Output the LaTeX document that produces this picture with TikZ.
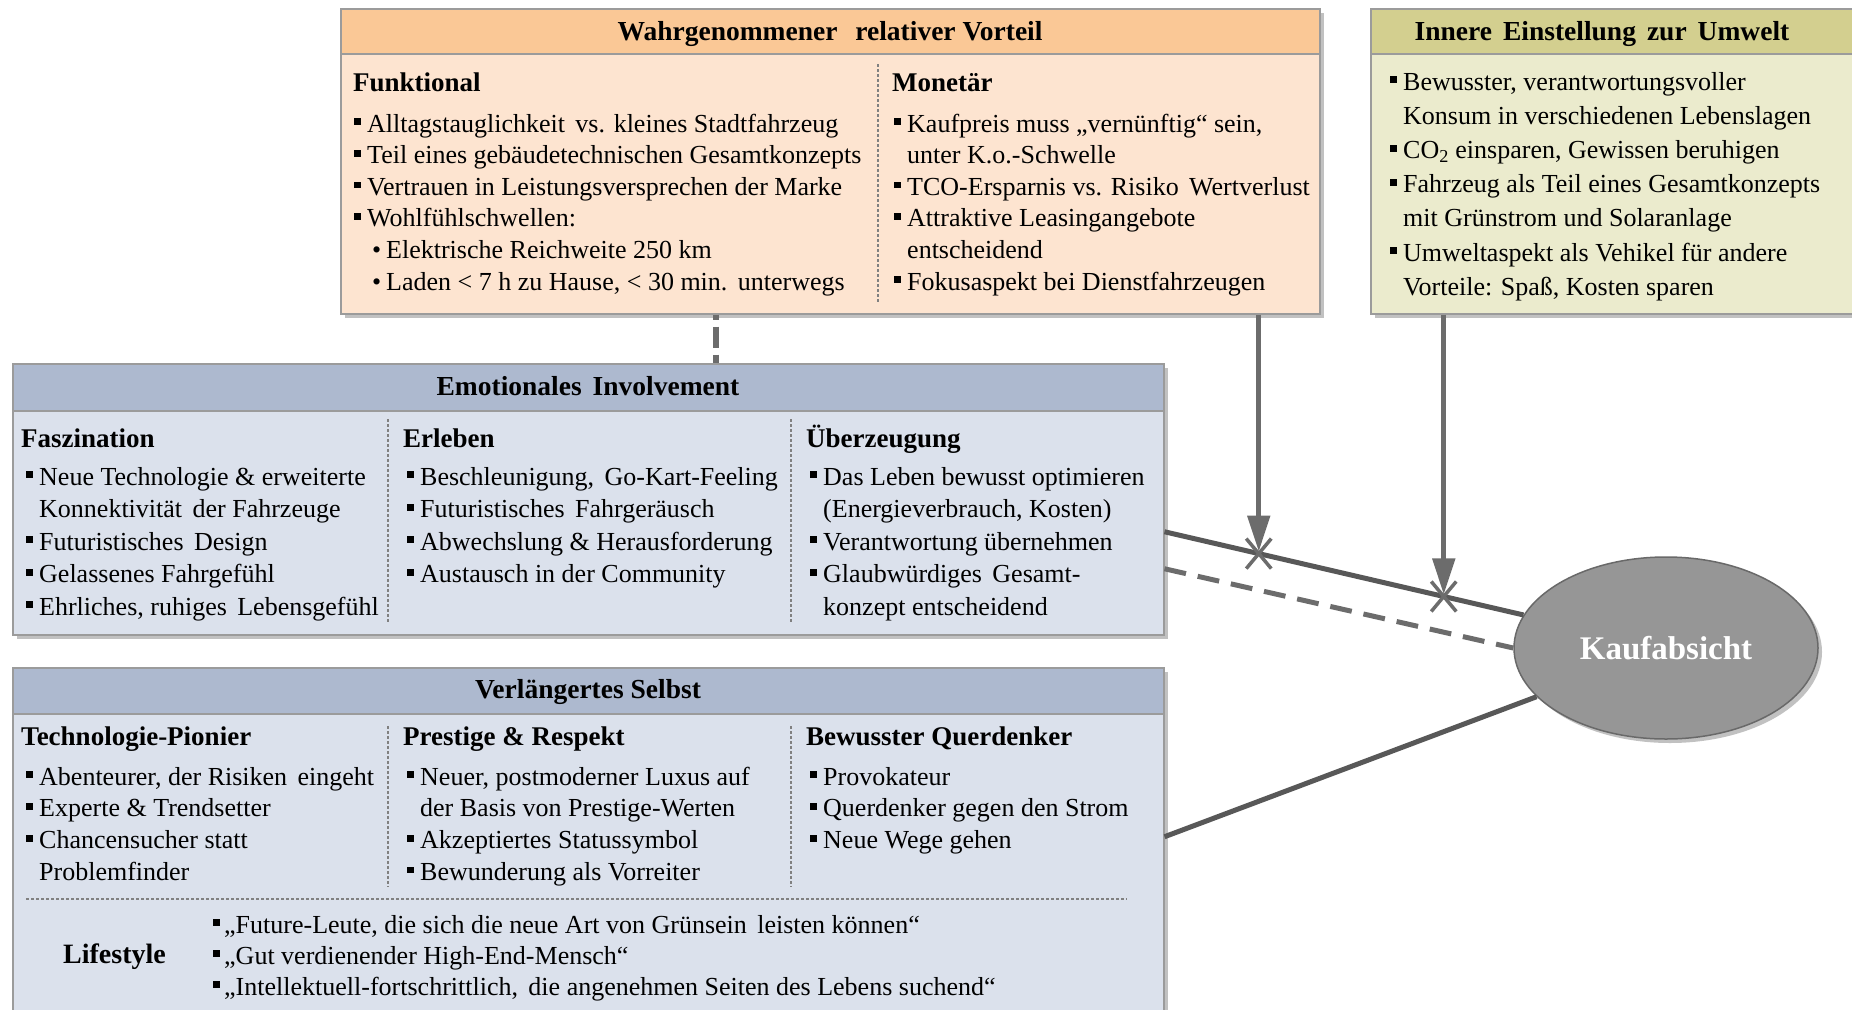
\documentclass[tikz,border=0pt]{standalone}
\usepackage{fontspec}
\setmainfont{Liberation Serif}
\usetikzlibrary{shapes.geometric,shadows,arrows.meta,intersections,calc}

\definecolor{orangeHead}{RGB}{250,200,150}
\definecolor{orangeBody}{RGB}{253,228,208}
\definecolor{greenHead}{RGB}{211,207,143}
\definecolor{greenBody}{RGB}{235,235,205}
\definecolor{blueHead}{RGB}{173,185,207}
\definecolor{blueBody}{RGB}{219,225,236}
\definecolor{borderGray}{RGB}{155,155,155}
\definecolor{ellFill}{RGB}{150,150,150}
\definecolor{ellBorder}{RGB}{105,105,105}
\definecolor{lineDark}{RGB}{88,88,88}
\definecolor{arrowGray}{RGB}{108,108,108}

% list markers and a slightly wider word gap
\newcommand\bul{\makebox[13pt][l]{\rule[0.26em]{0.26em}{0.26em}}}
\newcommand\ind{\hspace*{13pt}}
\newcommand\subbul{\hspace*{18pt}\makebox[14pt][l]{•}}
\newcommand\lbul{\makebox[11pt][l]{\rule[0.26em]{0.26em}{0.26em}}}
\newcommand\wsp{\hspace{0.4em}}

% one text line per node, baselines spaced evenly
\newcommand\listcol[5]{%
  \foreach \itm [count=\k] in {#5} {\node[txt] (#1\k) at (#2,{#3+#4*(\k-1)}) {\itm};}}

\tikzset{
  boxshadow/.style={drop shadow={shadow xshift=4pt, shadow yshift=-4pt, opacity=0.4, fill=black!60}},
  panel/.style={rectangle, draw=borderGray, line width=1.5pt, anchor=north west, inner sep=0pt, boxshadow},
  band/.style={rectangle, draw=borderGray, line width=1.5pt, anchor=north west, inner sep=0pt},
  title/.style={anchor=base, inner sep=0pt, font=\fontsize{27.5}{30}\selectfont\bfseries},
  head/.style={anchor=base west, inner sep=0pt, font=\fontsize{27}{30}\selectfont\bfseries},
  txt/.style={anchor=base west, inner sep=0pt, font=\fontsize{26}{30}\selectfont},
  divider/.style={draw=black!50, line width=2pt, dash pattern=on 2.5pt off 2.5pt},
  link/.style={draw=lineDark, line width=5pt},
  dashlink/.style={draw=arrowGray, line width=5pt, dash pattern=on 22pt off 12pt},
  vdash/.style={draw=arrowGray, line width=6pt, dash pattern=on 21pt off 7pt, dash phase=16pt},
  modarrow/.style={draw=arrowGray, line width=5pt, -{Triangle[length=36pt,width=22pt]}, shorten >=2pt},
  xmark/.style={draw=arrowGray, line width=3.5pt},
}

\begin{document}
\begin{tikzpicture}[x=1pt,y=-1pt]
\useasboundingbox (0,0) rectangle (1852,1009);
\fill[white] (0,0) rectangle (1852,1009);
\clip (0,0) rectangle (1852,1009);

% ---------- Wahrgenommener relativer Vorteil ----------
\node[panel, fill=orangeBody, minimum width=979pt, minimum height=305pt] (vorteil) at (340,8) {};
\node[band, fill=orangeHead, minimum width=979pt, minimum height=45pt] (vorteilHead) at (340,8) {};
\node[title] (vorteilTitle) at (830,40) {Wahrgenommener\wsp\ relativer Vorteil};
\draw[divider] (878,64) -- (878,302);
\node[head] (funkHead) at (353,91) {Funktional};
\listcol{funk}{354}{132}{31.6}{%
  {\bul Alltagstauglichkeit\wsp vs. kleines Stadtfahrzeug},
  {\bul Teil eines gebäudetechnischen Gesamtkonzepts},
  {\bul Vertrauen in Leistungsversprechen der Marke},
  {\bul Wohlfühlschwellen:},
  {\subbul Elektrische Reichweite 250 km},
  {\subbul Laden < 7 h zu Hause, < 30 min.\wsp unterwegs}}
\node[head] (monHead) at (892,91) {Monetär};
\listcol{mon}{894}{132}{31.6}{%
  {\bul Kaufpreis muss „vernünftig“ sein,},
  {\ind unter K.o.-Schwelle},
  {\bul TCO-Ersparnis vs. Risiko\wsp Wertverlust},
  {\bul Attraktive Leasingangebote},
  {\ind entscheidend},
  {\bul Fokusaspekt bei Dienstfahrzeugen}}

% ---------- Innere Einstellung zur Umwelt ----------
\node[panel, fill=greenBody, minimum width=492pt, minimum height=305pt] (umwelt) at (1370,8) {};
\node[band, fill=greenHead, minimum width=492pt, minimum height=45pt] (umweltHead) at (1370,8) {};
\node[title] (umweltTitle) at (1602,40) {Innere\wsp Einstellung\wsp zur\wsp Umwelt};
\listcol{umw}{1390}{90}{34.2}{%
  {\bul Bewusster, verantwortungsvoller},
  {\ind Konsum in verschiedenen Lebenslagen},
  {\bul CO\textsubscript{2} einsparen, Gewissen beruhigen},
  {\bul Fahrzeug als Teil eines Gesamtkonzepts},
  {\ind mit Grünstrom und Solaranlage},
  {\bul Umweltaspekt als Vehikel für andere},
  {\ind Vorteile: Spaß, Kosten sparen}}

% ---------- Emotionales Involvement ----------
\node[panel, fill=blueBody, minimum width=1151pt, minimum height=271pt] (emo) at (12,363) {};
\node[band, fill=blueHead, minimum width=1151pt, minimum height=47pt] (emoHead) at (12,363) {};
\node[title] (emoTitle) at (588,395) {Emotionales\wsp Involvement};
\draw[divider] (388,419) -- (388,623);
\draw[divider] (791,419) -- (791,623);
\node[head] (faszHead) at (21,447) {Faszination};
\listcol{fasz}{26}{485}{32.5}{%
  {\bul Neue Technologie \& erweiterte},
  {\ind Konnektivität\wsp der Fahrzeuge},
  {\bul Futuristisches\wsp Design},
  {\bul Gelassenes Fahrgefühl},
  {\bul Ehrliches, ruhiges\wsp Lebensgefühl}}
\node[head] (erlHead) at (403,447) {Erleben};
\listcol{erl}{407}{485}{32.5}{%
  {\bul Beschleunigung,\wsp Go-Kart-Feeling},
  {\bul Futuristisches\wsp Fahrgeräusch},
  {\bul Abwechslung \& Herausforderung},
  {\bul Austausch in der Community}}
\node[head] (ueberHead) at (806,447) {Überzeugung};
\listcol{ueber}{810}{485}{32.5}{%
  {\bul Das Leben bewusst optimieren},
  {\ind (Energieverbrauch, Kosten)},
  {\bul Verantwortung übernehmen},
  {\bul Glaubwürdiges\wsp Gesamt-},
  {\ind konzept entscheidend}}

% ---------- Verlängertes Selbst ----------
\node[panel, fill=blueBody, minimum width=1151pt, minimum height=353pt] (selbst) at (12,667) {};
\node[band, fill=blueHead, minimum width=1151pt, minimum height=46pt] (selbstHead) at (12,667) {};
\node[title] (selbstTitle) at (588,698) {Verlängertes Selbst};
\draw[divider] (388,726) -- (388,887);
\draw[divider] (791,726) -- (791,887);
\draw[divider] (26,899) -- (1127,899);
\node[head] (pionHead) at (21,745) {Technologie-Pionier};
\listcol{pion}{26}{785}{31.7}{%
  {\bul Abenteurer, der Risiken\wsp eingeht},
  {\bul Experte \& Trendsetter},
  {\bul Chancensucher statt},
  {\ind Problemfinder}}
\node[head] (prestHead) at (403,745) {Prestige \& Respekt};
\listcol{prest}{407}{785}{31.7}{%
  {\bul Neuer, postmoderner Luxus auf},
  {\ind der Basis von Prestige-Werten},
  {\bul Akzeptiertes Statussymbol},
  {\bul Bewunderung als Vorreiter}}
\node[head] (querHead) at (806,745) {Bewusster Querdenker};
\listcol{quer}{810}{785}{31.7}{%
  {\bul Provokateur},
  {\bul Querdenker gegen den Strom},
  {\bul Neue Wege gehen}}
\node[head, font=\fontsize{28}{30}\selectfont\bfseries] (lifeHead) at (63,963) {Lifestyle};
\listcol{life}{213}{933}{31}{%
  {\lbul„Future-Leute, die sich die neue Art von Grünsein\wsp leisten können“},
  {\lbul„Gut verdienender High-End-Mensch“},
  {\lbul„Intellektuell-fortschrittlich,\wsp die angenehmen Seiten des Lebens suchend“}}

% ---------- Kaufabsicht ----------
\node[ellipse, draw=ellBorder, line width=1.5pt, fill=ellFill, minimum width=304pt, minimum height=182pt,
      inner sep=0pt, boxshadow, text=white, font=\fontsize{33}{36}\selectfont\bfseries] (kauf) at (1666,648) {Kaufabsicht};

% ---------- connectors ----------
\coordinate (emoOut) at ([yshift=-32.5pt]emo.east);
\coordinate (emoOutB) at ([yshift=-69.5pt]emo.east);
\coordinate (selbstOut) at ([yshift=7.5pt]selbst.east);
\coordinate (vorteilOut) at ([xshift=428.5pt]vorteil.south);
\coordinate (umweltOut) at ([xshift=-173pt]umwelt.south);
\coordinate (vorteilDash) at ([xshift=-114.5pt]vorteil.south);

\draw[link, name path=mainpath] (emoOut) -- (kauf);
\draw[dashlink] (emoOutB) -- (kauf.west);
\draw[link] (selbstOut) -- (kauf);
\draw[vdash] (vorteilDash) -- (vorteilDash |- emo.north);

\path[name path=vpathA] (vorteilOut) -- ++(0,400);
\path[name path=vpathB] (umweltOut) -- ++(0,400);
\path[name intersections={of=vpathA and mainpath, by=modA}];
\path[name intersections={of=vpathB and mainpath, by=modB}];

\foreach \m/\src in {modA/vorteilOut, modB/umweltOut} {
  \draw[modarrow] (\src) -- (\m);
  \draw[xmark] ([shift={(-12.5,-15)}]\m) -- ([shift={(12.5,15)}]\m);
  \draw[xmark] ([shift={(12.5,-15)}]\m) -- ([shift={(-12.5,15)}]\m);
}
\end{tikzpicture}
\end{document}
